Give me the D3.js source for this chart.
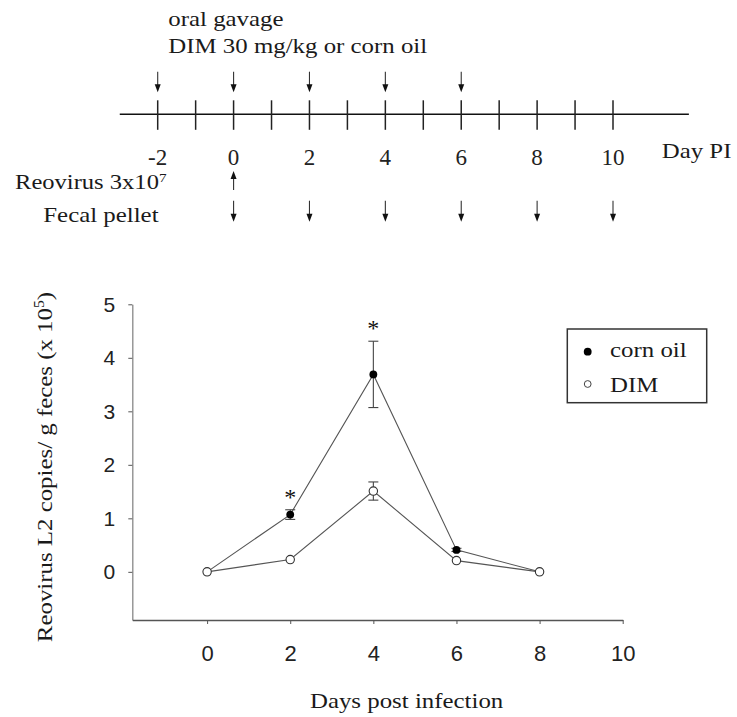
<!DOCTYPE html>
<html><head><meta charset="utf-8">
<script src="https://cdn.jsdelivr.net/npm/d3@7"></script>
<style>
html,body{margin:0;padding:0;background:#fff;}
svg{display:block;}
</style></head>
<body>
<script>
// ---------- data ----------
const timelineDays = [-2,-1,0,1,2,3,4,5,6,7,8,9,10];
const timelineLabels = [-2,0,2,4,6,8,10];
const gavageDays = [-2,0,2,4,6];
const reovirusDays = [0];
const fecalDays = [0,2,4,6,8,10];

const days = [0,2,4,6,8];
const cornOil = [0,1.07,3.69,0.41,0.0];
const cornOilErr = [0,0.09,0.62,0.03,0];
const dim = [0,0.23,1.51,0.21,0];
const dimErr = [0,0.02,0.17,0.02,0];
const starDays = [2,4];
const xTicks = [0,2,4,6,8,10];
const yTicks = [0,1,2,3,4,5];
const seriesNames = ["corn oil","DIM"];

const W=737,H=717;
const SERIF='"Liberation Serif","Times New Roman",serif';
const SANS='"Liberation Sans",Arial,sans-serif';
const SX=1.13;

const svg=d3.select("body").append("svg").attr("width",W).attr("height",H);

function stext(x,y,str,opt={}){
  const t=svg.append("text")
    .attr("transform",`translate(${x},${y}) rotate(${opt.rot||0}) scale(${opt.sx||SX},1)`)
    .attr("font-family",SERIF).attr("font-size",opt.fs||22).attr("fill","#1a1a1a")
    .attr("text-anchor",opt.anchor||"start");
  t.append("tspan").text(str);
  if(opt.sup){ t.append("tspan").attr("font-size",opt.supfs||14).attr("dy",-(opt.supdy||8)).text(opt.sup);
    if(opt.after){ t.append("tspan").attr("dy",opt.supdy||8).text(opt.after);} }
  return t;
}

// ---------- timeline ----------
const tx=d3.scaleLinear().domain([-2,10]).range([157.7,613]);
const lineY=114.3;
svg.append("line").attr("x1",tx(-3)).attr("x2",tx(12)).attr("y1",lineY).attr("y2",lineY)
  .attr("stroke","#111").attr("stroke-width",1.6);
svg.selectAll(".tt").data(timelineDays).join("line")
  .attr("x1",d=>tx(d)).attr("x2",d=>tx(d)).attr("y1",lineY-14).attr("y2",lineY+15.5)
  .attr("stroke","#222").attr("stroke-width",1.5);
svg.selectAll(".tl").data(timelineLabels).join("text")
  .attr("x",d=>tx(d)).attr("y",165).attr("text-anchor","middle")
  .attr("font-family",SERIF).attr("font-size",23).attr("fill","#222")
  .text(d=>d);

function arrow(x,y1,y2,down){
  svg.append("line").attr("x1",x).attr("x2",x).attr("y1",y1).attr("y2",down?y2-6:y2+6)
    .attr("stroke","#333").attr("stroke-width",1.1);
  const s=down?-1:1;
  svg.append("path").attr("d",`M${x},${y2} L${x-3},${y2+s*8} L${x+3},${y2+s*8} Z`).attr("fill","#111");
}
gavageDays.forEach(d=>arrow(tx(d),71.7,92.3,true));
reovirusDays.forEach(d=>arrow(tx(d),190,171,false));
fecalDays.forEach(d=>arrow(tx(d),200.7,221.7,true));

stext(168.3,26,"oral gavage");
stext(168.3,53.3,"DIM 30 mg/kg or corn oil");
stext(661.7,158.3,"Day PI");
stext(15,189,"Reovirus 3x10",{fs:21,sx:1.17,sup:"7",supfs:13,supdy:7});
stext(43.3,221.7,"Fecal pellet");

// ---------- chart ----------
const x=d3.scaleLinear().domain([-1.8,10]).range([132.3,622.7]);
const y=d3.scaleLinear().domain([-0.9,5]).range([620,304.3]);

const yAxis=svg.append("g").attr("transform",`translate(${x(-1.8)},0)`)
  .call(d3.axisLeft(y).tickValues(yTicks).tickFormat(d3.format("d")).tickSize(4).tickSizeOuter(0).tickPadding(13));
yAxis.select(".domain").attr("stroke","#888").attr("stroke-width",1.3);
yAxis.selectAll(".tick line").attr("stroke","#555");
yAxis.selectAll(".tick text").attr("font-family",SANS).attr("font-size",21).attr("fill","#222");

const xAxis=svg.append("g").attr("transform",`translate(0,${y(-0.9)})`)
  .call(d3.axisBottom(x).tickValues(xTicks).tickFormat(d3.format("d")).tickSize(4).tickSizeOuter(0).tickPadding(21));
xAxis.select(".domain").attr("stroke","#555").attr("stroke-width",1.3);
xAxis.selectAll(".tick line").attr("stroke","#555");
xAxis.selectAll(".tick text").attr("font-family",SANS).attr("font-size",22).attr("fill","#222");

const line=d3.line().x((d,i)=>x(days[i])).y(d=>y(d));
svg.append("path").attr("d",line(cornOil)).attr("fill","none").attr("stroke","#555").attr("stroke-width",1.1);
svg.append("path").attr("d",line(dim)).attr("fill","none").attr("stroke","#555").attr("stroke-width",1.1);

function errBars(vals,errs){
  vals.forEach((v,i)=>{
    if(errs[i]<=0.025) return;
    const cx=x(days[i]), cw=5;
    const g=svg.append("g").attr("stroke","#444").attr("stroke-width",1.1);
    g.append("line").attr("x1",cx).attr("x2",cx).attr("y1",y(v+errs[i])).attr("y2",y(v-errs[i]));
    g.append("line").attr("x1",cx-cw).attr("x2",cx+cw).attr("y1",y(v+errs[i])).attr("y2",y(v+errs[i]));
    g.append("line").attr("x1",cx-cw).attr("x2",cx+cw).attr("y1",y(v-errs[i])).attr("y2",y(v-errs[i]));
  });
}
errBars(cornOil,cornOilErr);
errBars(dim,dimErr);

svg.selectAll(".cp").data(cornOil).join("circle")
  .attr("cx",(d,i)=>x(days[i])).attr("cy",d=>y(d)).attr("r",3.9).attr("fill","#000");
svg.selectAll(".dp").data(dim).join("circle")
  .attr("cx",(d,i)=>x(days[i])).attr("cy",d=>y(d)).attr("r",4.2)
  .attr("fill","#fff").attr("stroke","#333").attr("stroke-width",1.1);

// asterisks
starDays.forEach(d=>{
  const i=days.indexOf(d);
  const top=y(cornOil[i]+cornOilErr[i]);
  svg.append("text").attr("x",x(d)).attr("y",top-16+11).attr("text-anchor","middle")
    .attr("font-family",SERIF).attr("font-size",24).attr("fill","#111").text("*");
});

// axis titles
stext(406.6,708,"Days post infection",{anchor:"middle"});
stext(52,467,"Reovirus L2 copies/ g feces (x 10",{rot:-90,anchor:"middle",sup:"5",after:")"});

// legend
const lg=svg.append("g");
lg.append("rect").attr("x",567.3).attr("y",329).attr("width",139.4).attr("height",73.7)
  .attr("fill","#fff").attr("stroke","#333").attr("stroke-width",1.5);
lg.append("circle").attr("cx",587.7).attr("cy",351.7).attr("r",3.9).attr("fill","#000");
lg.append("circle").attr("cx",587.7).attr("cy",384).attr("r",3.4).attr("fill","#fff").attr("stroke","#444").attr("stroke-width",1);
lg.append("text").attr("transform",`translate(610,357) scale(${SX},1)`).attr("font-family",SERIF).attr("font-size",22).attr("fill","#1a1a1a").text(seriesNames[0]);
lg.append("text").attr("transform",`translate(610,392) scale(${SX},1)`).attr("font-family",SERIF).attr("font-size",22).attr("fill","#1a1a1a").text(seriesNames[1]);
</script>
</body></html>
